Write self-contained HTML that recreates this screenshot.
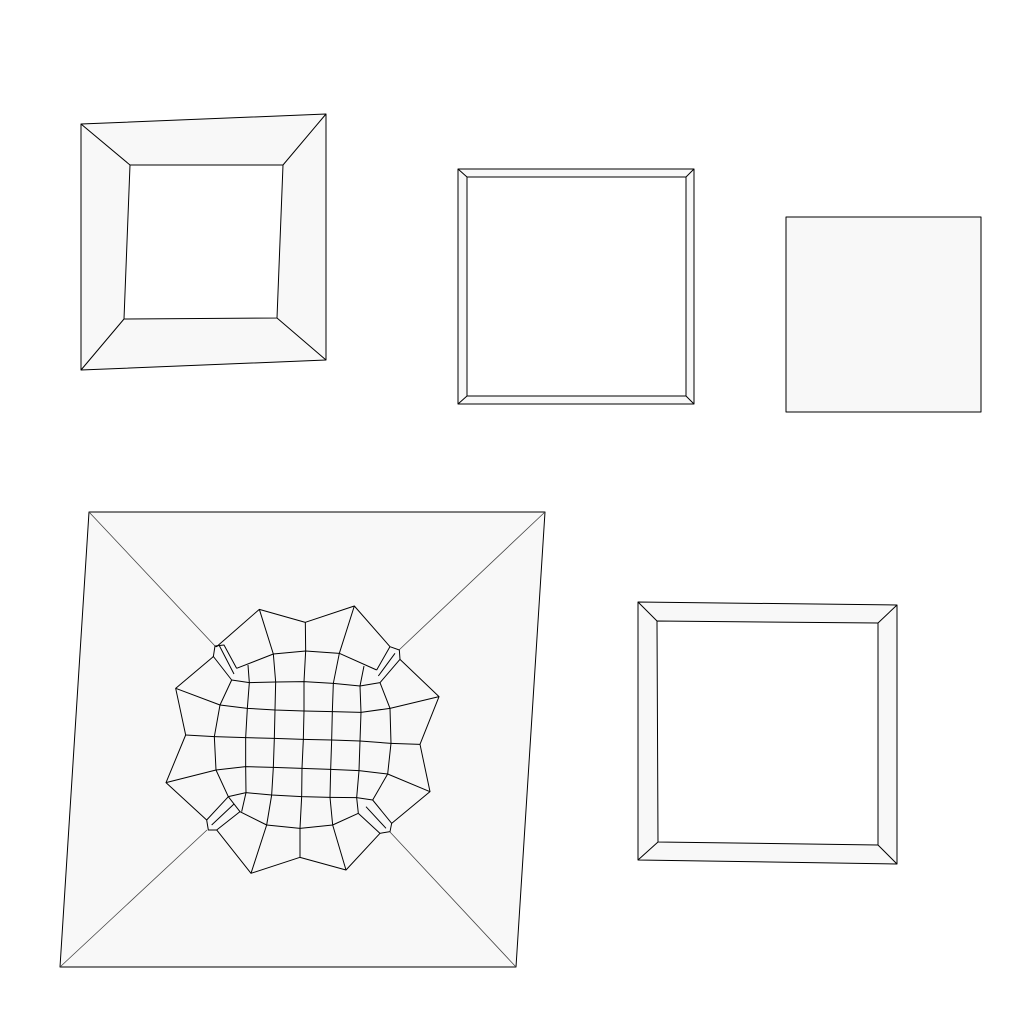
<!DOCTYPE html>
<html><head><meta charset="utf-8"><style>html,body{margin:0;padding:0;background:#fff}svg{display:block}</style></head>
<body>
<svg width="1024" height="1024" viewBox="0 0 1024 1024">
<g stroke="#000" stroke-width="1" stroke-linejoin="round">
 <g>
  <path d="M81,124 L326,114 L326,360 L81,370 Z M130,165 L124,319 L277,318 L283,165 Z" fill="#f8f8f8" fill-rule="evenodd"/>
  <path d="M81,124L130,165M326,114L283,165M326,360L277,318M81,370L124,319" fill="none"/>
 </g>
 <g>
  <path d="M458,169 L694,169 L694,404 L458,404 Z M467,177 L467,396 L686,396 L686,177 Z" fill="#f8f8f8" fill-rule="evenodd"/>
  <path d="M458,169L467,177M694,169L686,177M694,404L686,396M458,404L467,396" fill="none"/>
 </g>
 <rect x="786" y="217" width="195" height="195" fill="#f8f8f8"/>
 <g>
  <path d="M638,602 L897,605 L897,864 L638,860 Z M657,621 L658,842 L878,845 L878,623 Z" fill="#f8f8f8" fill-rule="evenodd"/>
  <path d="M638,602L657,621M897,605L878,623M897,864L878,845M638,860L658,842" fill="none"/>
 </g>
 <g>
  <path d="M89,512 L545,512 L516,967 L60,967 Z" fill="#f8f8f8"/>
  <path d="M89,512L215,646M545,512L399,650M516,967L390,832M60,967L207,830" stroke="#444" stroke-width="0.8" fill="none"/>
  <g transform="translate(160,600) scale(0.33333)" stroke-width="3" fill="none">
   <!-- outer star -->
   <path d="M170,140 L298,28 L436,67 L583,18 L690,140 L718,150 L720,178 L837,290 L780,433 L810,575 L695,670 L690,695 L660,700 L558,810 L420,772 L273,820 L170,690 L145,690 L140,660 L18,548 L77,405 L47,265 L160,170 L165,138 Z"/>
   <!-- corner pieces -->
   <path d="M165,138L192,135L230,205M159,168L215,240M178,137L222,222"/>
   <path d="M690,140L650,210M720,178L660,248M705,160L655,228"/>
   <path d="M695,670L638,600M660,700L595,640M678,685L618,620"/>
   <path d="M140,660L205,590M170,690L240,635M155,675L222,612"/>
   <!-- spokes -->
   <path d="M298,28L340,162M436,67L437,153M583,18L538,160M47,265L180,315M77,405L163,410M18,548L168,510M837,290L690,325M780,433L693,430M810,575L683,522M273,820L320,675M420,772L420,685M558,810L518,675"/>
   <!-- rows -->
   <path d="M230,205L340,162L437,153L538,160L650,210"/>
   <path d="M215,240L268,248L347,246L432,245L520,250L600,258L660,248"/>
   <path d="M180,315L262,325L345,330L432,333L517,335L603,337L690,325"/>
   <path d="M163,410L257,413L343,415L430,418L515,420L600,423L693,430"/>
   <path d="M168,510L257,500L340,502L426,505L512,508L597,512L683,522"/>
   <path d="M205,590L258,578L335,585L425,590L510,592L590,593L638,600"/>
   <path d="M240,635L320,675L420,685L518,675L595,640"/>
   <!-- columns -->
   <path d="M215,240L180,315L163,410L168,510L205,590L240,635"/>
   <path d="M264,195L268,248L262,325L257,413L257,500L258,578L245,635"/>
   <path d="M340,162L347,246L345,330L343,415L340,502L335,585L320,675"/>
   <path d="M437,153L432,245L432,333L430,418L426,505L425,590L420,685"/>
   <path d="M538,160L520,250L517,335L515,420L512,508L510,592L518,675"/>
   <path d="M612,198L600,258L603,337L600,423L597,512L590,593L595,640"/>
   <path d="M660,248L690,325L693,430L683,522L638,600"/>
  </g>
 </g>
</g>
</svg>
</body></html>
